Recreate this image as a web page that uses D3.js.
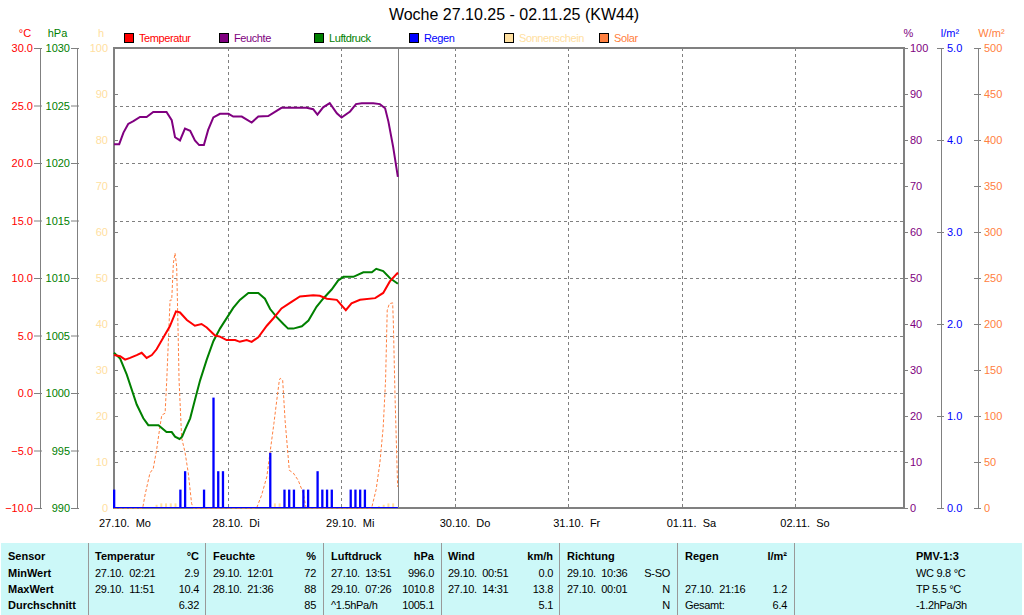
<!DOCTYPE html>
<html><head><meta charset="utf-8">
<script src="https://cdn.jsdelivr.net/npm/d3@7"></script>
<style>
body{margin:0;background:#fff;}
svg{display:block;font-family:"Liberation Sans",Arial,sans-serif;}
</style></head><body>
<svg id="chart" width="1024" height="615"></svg>
<script>
// ---------- data ----------
const title = "Woche 27.10.25 - 02.11.25 (KW44)";
const dayLabels = ["27.10.  Mo","28.10.  Di","29.10.  Mi","30.10.  Do","31.10.  Fr","01.11.  Sa","02.11.  So"];
const legendNames = ["Temperatur","Feuchte","Luftdruck","Regen","Sonnenschein","Solar"];
const legendColors = ["#ff0000","#800080","#008000","#0000ff","#ffe0a0","#ff8040"];
const tempTicks = [-10,-5,0,5,10,15,20,25,30];
const pressTicks = [990,995,1000,1005,1010,1015,1020,1025,1030];
const pctTicks = [0,10,20,30,40,50,60,70,80,90,100];
const rainTicks = [0,1,2,3,4,5];
const solarTicks = [0,50,100,150,200,250,300,350,400,450,500];
const nowHour = 60; // hours since 27.10. 00:00

// [hour since 27.10. 00:00, value]
const temperature = [[0,3.3],[1.3,3.2],[2.35,2.9],[3.4,3.05],[4.8,3.3],[5.85,3.5],[6.9,3.05],[8,3.3],[9,3.8],[10.4,4.8],[11.8,5.8],[13.1,7.1],[13.95,7.0],[15.4,6.35],[17.1,5.85],[18.5,6.0],[19.6,5.7],[21.35,5.0],[22.4,4.9],[23.8,4.6],[25.6,4.6],[26.6,4.45],[28.05,4.6],[29.1,4.45],[30.5,4.85],[32.3,5.85],[33.7,6.5],[35.4,7.35],[37.6,7.95],[39.3,8.4],[42.1,8.5],[43.5,8.45],[45,8.2],[47.1,8.1],[49,7.2],[50.2,7.8],[52,8.1],[55.2,8.25],[56.9,8.7],[58.3,9.7],[59.85,10.4],[60,10.3]];
const humidity = [[0,79.1],[1.1,79.1],[2,81.6],[3,83.5],[4.1,84.1],[5.5,85.0],[6.9,85.0],[8.3,86.1],[11.1,86.1],[12.2,84.3],[12.9,80.6],[13.95,79.9],[15,82.5],[16.1,82.0],[17.1,79.9],[18,78.9],[19,78.9],[19.9,82.2],[21,84.9],[22.4,85.7],[24.2,85.7],[25.2,85.1],[27,85.1],[29.1,83.8],[30.5,85.1],[32.6,85.2],[35.4,87.0],[40.7,87.0],[42.1,86.7],[43,85.5],[44.2,87.1],[45.6,88.0],[47.1,85.8],[48.1,84.9],[49.9,86.2],[51.15,87.8],[52.35,88.0],[54.8,88.0],[56.2,87.8],[57.3,86.9],[58,84.0],[59,78.5],[60,72.0]];
const pressure = [[0,1003.5],[1.3,1003.0],[2.7,1001.6],[4.8,999.0],[6.2,997.8],[7.25,997.2],[9.4,997.2],[11.1,996.6],[12.2,996.6],[12.9,996.2],[13.85,996.0],[14.4,996.2],[15,996.8],[16.1,997.8],[17.1,999.4],[18.2,1001.1],[19.6,1002.9],[21,1004.5],[22.4,1005.6],[25.2,1007.4],[26.6,1008.1],[28.4,1008.7],[30.5,1008.7],[31.9,1008.2],[33,1007.3],[34.4,1006.6],[35.8,1006.0],[36.8,1005.6],[37.9,1005.6],[39.7,1005.8],[41.1,1006.3],[42.8,1007.5],[44.2,1008.2],[46,1009.0],[47.4,1009.8],[48.5,1010.1],[50.6,1010.1],[52.7,1010.5],[54.5,1010.5],[55.43,1010.8],[56.9,1010.6],[58.3,1010.0],[60,1009.5]];
const solar = [[0,0],[6.07,0],[6.55,14],[7.6,38],[8.3,43],[9,63],[9.7,88],[10.1,101],[10.8,103],[11.15,139],[11.85,226],[12.2,226],[12.55,266],[12.9,277],[13.25,262],[13.6,179],[13.75,139],[14.3,76],[15,61],[15.7,38],[16.4,5],[16.75,0],[30.15,0],[31.2,14],[32.3,34],[33,61],[33.8,92],[34.4,117],[34.95,139],[35.15,141],[35.65,139],[36.15,96],[37.05,41],[37.9,38],[38.95,30],[40,16],[40.6,0],[54.45,0],[55.4,20],[56.2,49],[56.9,88],[57.4,139],[57.75,215],[58.2,222],[58.9,223],[59.05,200],[59.4,121],[59.95,23]];
const rainHours = [0,14,15,19,21,22,23,33,36,37,38,40,41,43,44,45,46,50,51,52,53];
const rainValues = [0.2,0.2,0.4,0.2,1.2,0.4,0.4,0.6,0.2,0.2,0.2,0.2,0.2,0.4,0.2,0.2,0.2,0.2,0.2,0.2,0.2];
const sunHours = [9,10,11,12,13,34,35,56,57,58,59];
const sunValues = [0.7,1,1,1,1,1,1,0.4,0.7,1,1];

const tableRows = [
  ["Sensor","MinWert","MaxWert","Durchschnitt"]
];
const tableCols = [
  {head:"Temperatur", unit:"°C", left:["27.10.  02:21","29.10.  11:51",""], right:["2.9","10.4","6.32"]},
  {head:"Feuchte", unit:"%", left:["29.10.  12:01","28.10.  21:36",""], right:["72","88","85"]},
  {head:"Luftdruck", unit:"hPa", left:["27.10.  13:51","29.10.  07:26","^1.5hPa/h"], right:["996.0","1010.8","1005.1"]},
  {head:"Wind", unit:"km/h", left:["29.10.  00:51","27.10.  14:31",""], right:["0.0","13.8","5.1"]},
  {head:"Richtung", unit:"", left:["29.10.  10:36","27.10.  00:01",""], right:["S-SO","N","N"]},
  {head:"Regen", unit:"l/m²", left:["","27.10.  21:16","Gesamt:"], right:["","1.2","6.4"]}
];
const pmvLines = ["PMV-1:3","WC 9.8 °C","TP 5.5 °C","-1.2hPa/3h"];

// ---------- layout ----------
const L = 114, R = 904, T = 48, B = 508;
const pxPerDay = 113.55;
const svg = d3.select("#chart");
const FONT = '"Liberation Sans",Arial,sans-serif';

const x = d3.scaleLinear().domain([0,168]).range([L, L + 7*pxPerDay]);
const yTemp = d3.scaleLinear().domain([-10,30]).range([B,T]);
const yPress = d3.scaleLinear().domain([990,1030]).range([B,T]);
const yPct = d3.scaleLinear().domain([0,100]).range([B,T]);
const yRain = d3.scaleLinear().domain([0,5]).range([B,T]);
const ySolar = d3.scaleLinear().domain([0,500]).range([B,T]);

// title
svg.append("text").attr("x",514).attr("y",20).attr("text-anchor","middle")
  .attr("font-size",16).attr("fill","#000").text(title);

// legend
legendNames.forEach((n,i)=>{
  const lx = 124 + i*95;
  svg.append("rect").attr("x",lx+0.5).attr("y",33.5).attr("width",9).attr("height",9)
    .attr("fill",legendColors[i]).attr("stroke","#000");
  svg.append("text").attr("x",lx+15).attr("y",42).attr("font-size",11)
    .attr("letter-spacing","-0.4px")
    .attr("fill",legendColors[i]).text(n);
});

// unit labels
const units = [["°C",25,"#ff0000"],["hPa",57.5,"#008000"],["h",101,"#ffe0a0"],["%",908.5,"#800080"],["l/m²",950,"#0000ff"],["W/m²",991.5,"#ff8040"]];
units.forEach(u=>svg.append("text").attr("x",u[1]).attr("y",37).attr("text-anchor","middle")
  .attr("font-size",11).attr("fill",u[2]).text(u[0]));

// gridlines
const grid = svg.append("g").attr("stroke","#808080").attr("stroke-dasharray","3,3").attr("stroke-width",1);
tempTicks.slice(1,-1).forEach(t=>{
  const yy = Math.round(yTemp(t))+0.5;
  grid.append("line").attr("x1",L).attr("x2",R).attr("y1",yy).attr("y2",yy);
});
d3.range(1,7).forEach(d=>{
  const xx = Math.round(x(d*24))+0.5;
  grid.append("line").attr("x1",xx).attr("x2",xx).attr("y1",T).attr("y2",B);
});

// axes helper
function styleAxis(g,color){
  g.attr("font-family",FONT).attr("font-size",11);
  g.select(".domain").attr("stroke","#808080");
  g.selectAll(".tick line").attr("stroke","#808080");
  g.selectAll(".tick text").attr("fill",color);
}
svg.append("g").attr("transform","translate(40,0)")
  .call(d3.axisLeft(yTemp).tickValues(tempTicks).tickFormat(d3.format(".1f")).tickSizeInner(6).tickSizeOuter(0).tickPadding(1))
  .call(g=>styleAxis(g,"#ff0000")).call(g=>g.selectAll(".tick line").attr("x1",2));
svg.append("g").attr("transform","translate(77,0)")
  .call(d3.axisLeft(yPress).tickValues(pressTicks).tickFormat(d3.format("d")).tickSizeInner(6).tickSizeOuter(0).tickPadding(1))
  .call(g=>styleAxis(g,"#008000")).call(g=>g.selectAll(".tick line").attr("x1",2));
svg.append("g").attr("transform",`translate(${L},0)`)
  .call(d3.axisLeft(yPct).tickValues(pctTicks).tickFormat(d3.format("d")).tickSizeInner(-4).tickSizeOuter(0).tickPadding(6))
  .call(g=>styleAxis(g,"#ffe0a0")).call(g=>g.select(".domain").remove());
svg.append("g").attr("transform",`translate(${R},0)`)
  .call(d3.axisRight(yPct).tickValues(pctTicks).tickFormat(d3.format("d")).tickSizeInner(4).tickSizeOuter(0).tickPadding(2))
  .call(g=>styleAxis(g,"#800080")).call(g=>g.select(".domain").remove());
svg.append("g").attr("transform","translate(941,0)")
  .call(d3.axisRight(yRain).tickValues(rainTicks).tickFormat(d3.format(".1f")).tickSizeInner(3).tickSizeOuter(0).tickPadding(3))
  .call(g=>styleAxis(g,"#0000ff")).call(g=>g.selectAll(".tick line").attr("x1",-4));
svg.append("g").attr("transform","translate(978,0)")
  .call(d3.axisRight(ySolar).tickValues(solarTicks).tickFormat(d3.format("d")).tickSizeInner(3).tickSizeOuter(0).tickPadding(3))
  .call(g=>styleAxis(g,"#ff8040")).call(g=>g.selectAll(".tick line").attr("x1",-4));

// frame
svg.append("rect").attr("x",L).attr("y",T).attr("width",R-L).attr("height",B-T)
  .attr("fill","none").attr("stroke","#808080").attr("stroke-width",2);

// day labels
dayLabels.forEach((d,i)=>{
  svg.append("text").attr("x",x(i*24)-15).attr("y",527).attr("font-size",11)
    .attr("fill","#000").style("white-space","pre").text(d);
});

// now line
svg.append("line").attr("x1",Math.round(x(nowHour))+0.5).attr("x2",Math.round(x(nowHour))+0.5)
  .attr("y1",T).attr("y2",B).attr("stroke","#808080").attr("stroke-width",1);

// solar
svg.append("path").datum(solar)
  .attr("d",d3.line().x(d=>x(d[0])).y(d=>ySolar(d[1])))
  .attr("fill","none").attr("stroke","#ff8040").attr("stroke-width",1).attr("stroke-dasharray","3,2");

// sunshine bars
svg.append("g").selectAll("rect").data(sunHours).join("rect")
  .attr("x",(h)=>x(h)-1).attr("width",2)
  .attr("y",(h,i)=>yPct(sunValues[i])).attr("height",(h,i)=>B-yPct(sunValues[i]))
  .attr("fill","#ffe0a0");

// rain baseline + bars
svg.append("line").attr("x1",x(0)).attr("x2",x(nowHour)).attr("y1",507.5).attr("y2",507.5)
  .attr("stroke","#0000ff").attr("stroke-width",1);
svg.append("g").selectAll("rect").data(rainHours).join("rect")
  .attr("x",h=>x(h)-1).attr("width",2.3)
  .attr("y",(h,i)=>yRain(rainValues[i])).attr("height",(h,i)=>B-yRain(rainValues[i]))
  .attr("fill","#0000ff");

// lines
const lineOf = (ys)=>d3.line().x(d=>x(d[0])).y(d=>ys(d[1]));
svg.append("path").datum(pressure).attr("d",lineOf(yPress)).attr("fill","none")
  .attr("stroke","#008000").attr("stroke-width",2);
svg.append("path").datum(temperature).attr("d",lineOf(yTemp)).attr("fill","none")
  .attr("stroke","#ff0000").attr("stroke-width",2);
svg.append("path").datum(humidity).attr("d",lineOf(yPct)).attr("fill","none")
  .attr("stroke","#800080").attr("stroke-width",2);

// table
const tb = svg.append("g");
tb.append("rect").attr("x",1).attr("y",543).attr("width",1021).attr("height",72).attr("fill","#ccf8f8");
[88,205,323,441,559,677,794].forEach(sx=>tb.append("line").attr("x1",sx+0.5).attr("x2",sx+0.5)
  .attr("y1",543).attr("y2",615).attr("stroke","#999").attr("stroke-width",1));
const rowY = [560,576.5,593,609];
const tt = (xx,yy,txt,bold,anchor)=>tb.append("text").attr("x",xx).attr("y",yy)
  .attr("font-size",11).attr("font-weight",bold?"bold":"normal").attr("text-anchor",anchor||"start")
  .attr("letter-spacing",bold?"0px":"-0.3px")
  .attr("fill","#000").style("white-space","pre").text(txt);
tableRows[0].forEach((t,i)=>tt(8,rowY[i],t,true));
const colLeft = [95,213,331,448,567,685];
const colRight = [199,316,434,553,670,787];
tableCols.forEach((c,i)=>{
  tt(colLeft[i],rowY[0],c.head,true);
  if(c.unit) tt(colRight[i],rowY[0],c.unit,true,"end");
  c.left.forEach((t,j)=>{ if(t) tt(colLeft[i],rowY[j+1],t,false); });
  c.right.forEach((t,j)=>{ if(t) tt(colRight[i],rowY[j+1],t,false,"end"); });
});
pmvLines.forEach((t,i)=>tt(916,rowY[i],t,i===0));
</script>
</body></html>
